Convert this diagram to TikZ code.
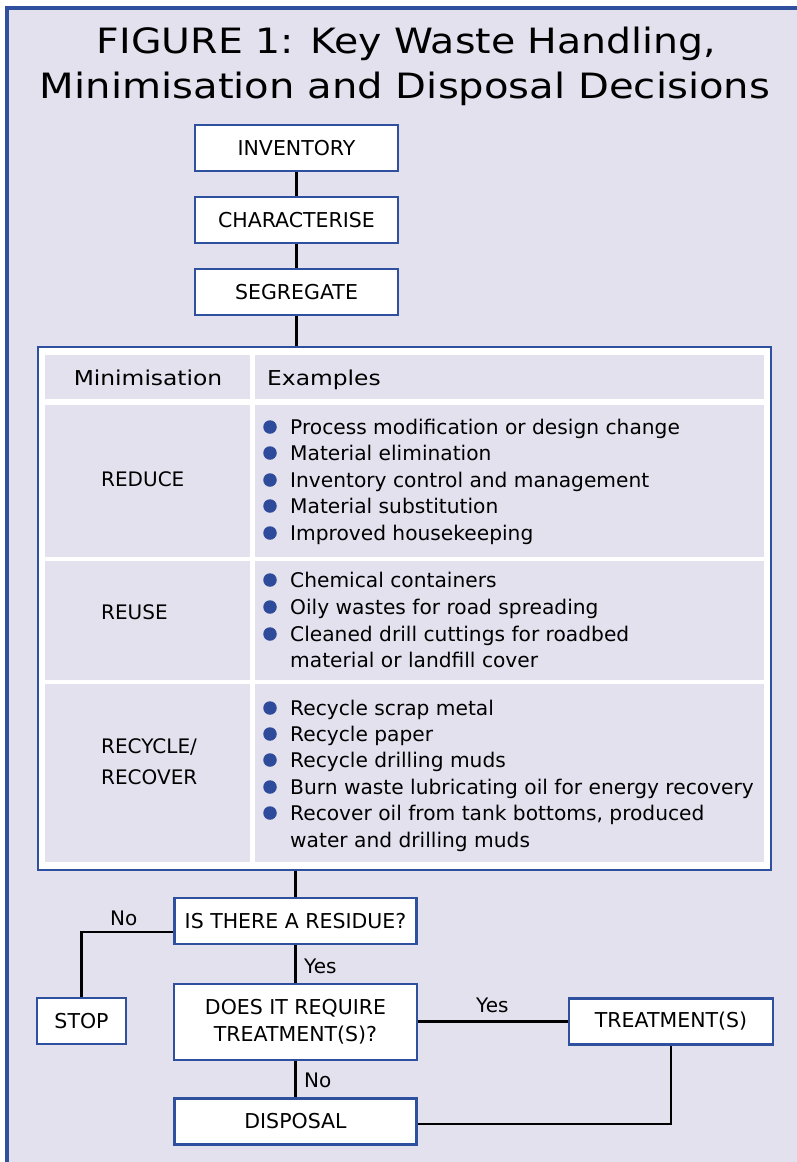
\documentclass[tikz,border=0pt]{standalone}
\usepackage{fontspec}
\usepackage{graphicx}
\setmainfont{DejaVu Sans}
\usetikzlibrary{calc}
\definecolor{bgl}{HTML}{E4E1EE}
\definecolor{bblue}{HTML}{2F4F9F}
\definecolor{dotc}{HTML}{2E4A9A}
\tikzset{
  x=1pt, y=-1pt,
  fbox/.style={draw=bblue, line width=2.6pt, fill=white, inner sep=0pt, align=center, font=\fontsize{20.5}{27}\selectfont},
  cell/.style={fill=bgl, draw=none},
  conn/.style={draw=black, line width=2.5pt},
  lbl/.style={font=\fontsize{20}{23}\selectfont, inner sep=0pt, anchor=base west},
  btxt/.style={font=\fontsize{20.2}{23}\selectfont, inner sep=0pt, anchor=base west},
  dot/.style={circle, fill=dotc, minimum size=13.5pt, inner sep=0pt},
  hdr/.style={font=\fontsize{20.5}{24}\selectfont, inner sep=0pt, anchor=base west},
  ttl/.style={inner sep=0pt, anchor=base}
}
\begin{document}
\begin{tikzpicture}
\useasboundingbox (0,0) rectangle (797,1162);
\fill[white] (0,0) rectangle (797,1162);
\fill[bgl] (7,8) rectangle (797,1162);
\fill[bblue] (5.25,6.25) rectangle (8.75,1162);
\fill[bblue] (5.25,6.25) rectangle (797,9.75);
% title
\node[ttl] (t1) at (406.5,53) {\resizebox{619pt}{26.5pt}{\fontsize{34}{40}\selectfont FIGURE 1: Key Waste Handling,}};
\node[ttl] (t2) at (405,98.5) {\resizebox{730pt}{26.5pt}{\fontsize{34}{40}\selectfont Minimisation and Disposal Decisions}};
% top boxes
\node[fbox, minimum width=203pt, minimum height=46pt] (inv) at (296.5,148) {INVENTORY};
\node[fbox, minimum width=203pt, minimum height=46pt] (cha) at (296.5,220) {CHARACTERISE};
\node[fbox, minimum width=203pt, minimum height=46pt] (seg) at (296.5,292) {SEGREGATE};
% table
\node[draw=bblue, line width=2.6pt, fill=white, inner sep=0pt, minimum width=733pt, minimum height=523pt] (tab) at (404.5,608.5) {};
\fill[cell] (45,355) rectangle (250,399);
\fill[cell] (255,355) rectangle (764,399);
\fill[cell] (45,405) rectangle (250,557);
\fill[cell] (255,405) rectangle (764,557);
\fill[cell] (45,561) rectangle (250,680);
\fill[cell] (255,561) rectangle (764,680);
\fill[cell] (45,684) rectangle (250,862);
\fill[cell] (255,684) rectangle (764,862);
\node[hdr, anchor=base] (hmin) at (148,385) {\scalebox{1.14}[1]{Minimisation}};
\node[hdr] (hex) at (267,385) {\scalebox{1.14}[1]{Examples}};
\node[lbl] (lred) at (101,486) {REDUCE};
\node[lbl] (lreu) at (101,619) {REUSE};
\node[lbl] (lrc1) at (101,753) {RECYCLE/};
\node[lbl] (lrc2) at (101,784) {RECOVER};
% bullets
\foreach \yy/\tt [count=\i] in {
  434/Process modification or design change,
  460/Material elimination,
  487/Inventory control and management,
  513/Material substitution,
  540/Improved housekeeping,
  587/Chemical containers,
  614/Oily wastes for road spreading,
  641/Cleaned drill cuttings for roadbed,
  715/Recycle scrap metal,
  741/Recycle paper,
  767/Recycle drilling muds,
  794/Burn waste lubricating oil for energy recovery,
  820/{Recover oil from tank bottoms, produced}}
{
  \node[dot] (d\i) at (270,\yy-7) {};
  \node[btxt] (b\i) at (290,\yy) {\tt};
}
\node[btxt] (c1) at (290,667) {material or landfill cover};
\node[btxt] (c2) at (290,847) {water and drilling muds};
% connectors top
\draw[conn] (inv.south) -- (cha.north);
\draw[conn] (cha.south) -- (seg.north);
\draw[conn] (seg.south) -- (seg.south |- tab.north);
% lower flow
\node[fbox, minimum width=242pt, minimum height=46pt] (res) at (295.5,921) {IS THERE A RESIDUE?};
\node[fbox, minimum width=89pt, minimum height=46pt] (stop) at (81.5,1021) {STOP};
\node[fbox, minimum width=243pt, minimum height=76pt] (req) at (295.5,1022) {DOES IT REQUIRE\\TREATMENT(S)?};
\node[fbox, minimum width=204pt, minimum height=46pt] (trt) at (671,1021.5) {TREATMENT(S)};
\node[fbox, minimum width=242pt, minimum height=46pt] (dsp) at (295.5,1121.5) {DISPOSAL};
\draw[conn] (res.north |- tab.south) -- (res.north);
\draw[conn] ([yshift=-11pt]res.west) -| (stop.north);
\draw[conn] (res.south) -- (req.north);
\draw[conn] (req.east |- trt.west) -- (trt.west);
\draw[conn] (req.south) -- (dsp.north);
\draw[conn] (trt.south) |- ([yshift=-2.5pt]dsp.east);
\node[lbl] (nNo1) at (110,925) {No};
\node[lbl] (nYes1) at (304,973) {Yes};
\node[lbl] (nYes2) at (476,1012) {Yes};
\node[lbl] (nNo2) at (304,1087) {No};
\end{tikzpicture}
\end{document}
